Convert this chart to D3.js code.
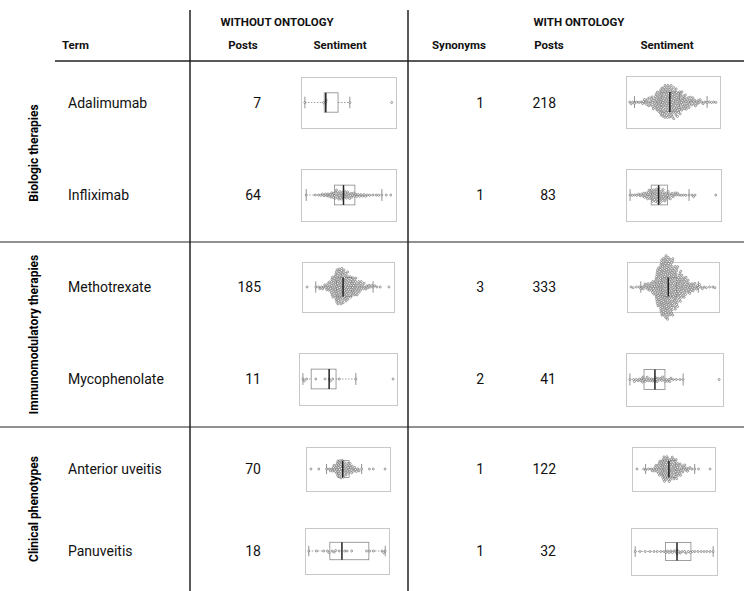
<!DOCTYPE html>
<html>
<head>
<meta charset="utf-8">
<script src="https://d3js.org/d3.v7.min.js"></script>
<style>
  body { margin: 0; background: #fff; }
  text { font-family: Roboto, "Noto Sans", sans-serif; }
</style>
</head>
<body>
<div id="my_table"></div>
<script>
// ---- data ----
var terms = ["Adalimumab", "Infliximab", "Methotrexate", "Mycophenolate", "Anterior uveitis", "Panuveitis"];
var groups = ["Biologic therapies", "Immunomodulatory therapies", "Clinical phenotypes"];
var groupOfTerm = [0, 0, 1, 1, 2, 2];
var postsWithout = [7, 64, 185, 11, 70, 18];
var synonyms = [1, 1, 3, 2, 1, 1];
var postsWith = [218, 83, 333, 41, 122, 32];

// sentiment scores (-1..1); small sets as raw values,
// big sets as counts per 0.1-wide bin from -1 to 1
var sentAdalimumabWithout = [-0.98, -0.56, -0.53, -0.51, -0.50, 0.03, 0.97];
var sentAdalimumabWithBins = [3, 2, 2, 5, 7, 10, 18, 26, 28, 28, 24, 20, 14, 10, 7, 5, 3, 2, 2, 2];
var sentInfliximabWithoutBins = [1, 0, 1, 2, 3, 4, 6, 8, 8, 7, 6, 4, 3, 3, 2, 1, 2, 1, 1, 1];
var sentInfliximabWithBins = [2, 2, 3, 5, 9, 12, 13, 11, 8, 5, 4, 2, 2, 1, 3, 0, 0, 0, 0, 1];
var sentMethotrexateWithoutBins = [1, 0, 1, 3, 4, 8, 18, 31, 31, 26, 18, 16, 11, 6, 4, 3, 2, 1, 0, 1];
var sentMethotrexateWithBins = [2, 1, 3, 5, 7, 12, 34, 52, 56, 48, 36, 26, 18, 12, 8, 5, 3, 2, 1, 2];
var sentMycophenolateWithout = [-0.98, -0.95, -0.9, -0.7, -0.5, -0.41, -0.38, -0.33, -0.19, 0.17, 0.98];
var sentMycophenolateWith = [-0.98, -0.9, -0.88, -0.84, -0.8, -0.77, -0.74, -0.72, -0.7, -0.69, -0.67,
  -0.64, -0.62, -0.6, -0.58, -0.55, -0.53, -0.5, -0.48, -0.45, -0.43, -0.42, -0.4, -0.38, -0.36,
  -0.33, -0.3, -0.28, -0.26, -0.23, -0.21, -0.18, -0.15, -0.12, -0.1, -0.08, -0.03, 0.04, 0.12, 0.19, 0.98];
var sentUveitisWithoutBins = [1, 0, 1, 0, 1, 3, 6, 14, 14, 10, 8, 5, 3, 1, 0, 1, 1, 0, 0, 1];
var sentUveitisWithBins = [1, 0, 2, 1, 3, 6, 12, 20, 20, 17, 15, 10, 6, 4, 2, 1, 1, 0, 0, 1];
var sentPanuveitisWithout = [-0.98, -0.78, -0.6, -0.5, -0.46, -0.38, -0.33, -0.29, -0.2, -0.06, 0.0, 0.12,
  0.5, 0.58, 0.68, 0.9, 0.94, 0.98];
var sentPanuveitisWith = [-0.97, -0.85, -0.72, -0.6, -0.5, -0.42, -0.33, -0.25, -0.2, -0.16, -0.12, -0.08,
  -0.04, 0.0, 0.05, 0.07, 0.08, 0.12, 0.16, 0.2, 0.26, 0.3, 0.36, 0.41, 0.46, 0.52, 0.6, 0.68, 0.75, 0.82, 0.9, 0.98];

function fromBins(counts) {
  var out = [];
  counts.forEach(function(n, k) {
    for (var i = 0; i < n; i++) out.push(-1 + 0.1 * k + (i + 0.5) / n * 0.1);
  });
  return out;
}

var sentWithout = [sentAdalimumabWithout, fromBins(sentInfliximabWithoutBins), fromBins(sentMethotrexateWithoutBins),
  sentMycophenolateWithout, fromBins(sentUveitisWithoutBins), sentPanuveitisWithout];
var sentWith = [fromBins(sentAdalimumabWithBins), fromBins(sentInfliximabWithBins), fromBins(sentMethotrexateWithBins),
  sentMycophenolateWith, fromBins(sentUveitisWithBins), sentPanuveitisWith];

// ---- layout ----
var width = 744, height = 591;
var rowY = [103, 195, 287, 379, 469, 551];
// thumbnail frames [x0, x1, y0, y1]
var frameWithout = [[301, 396, 77, 128], [301, 396, 169, 221], [302, 394, 262, 312],
  [299, 397, 353, 405], [306, 390, 447, 491], [305, 389, 528, 574]];
var frameWith = [[626, 720, 76, 128], [626, 721, 169, 221], [627, 719, 262, 312],
  [626, 723, 353, 406], [632, 715, 447, 491], [631, 717, 528, 575]];
var groupSpan = [[64, 242], [242, 427], [427, 591]];

var svg = d3.select("#my_table")
  .append("svg")
  .attr("width", width)
  .attr("height", height);

// header
var head1 = svg.append("g").style("font-weight", "bold").style("font-size", "11.5px").attr("fill", "#111");
head1.append("text").attr("x", 277).attr("y", 26).attr("text-anchor", "middle").text("WITHOUT ONTOLOGY");
head1.append("text").attr("x", 579).attr("y", 26).attr("text-anchor", "middle").text("WITH ONTOLOGY");
var subHeads = [["Term", 62, "start"], ["Posts", 243, "middle"], ["Sentiment", 340, "middle"],
  ["Synonyms", 459, "middle"], ["Posts", 549, "middle"], ["Sentiment", 667, "middle"]];
head1.selectAll(".sub").data(subHeads).enter().append("text")
  .attr("class", "sub")
  .attr("x", d => d[1]).attr("y", 49)
  .attr("text-anchor", d => d[2])
  .text(d => d[0]);

// rules
svg.append("line").attr("x1", 55).attr("x2", width).attr("y1", 61).attr("y2", 61)
  .attr("stroke", "#222").attr("stroke-width", 1.5);
[190, 408].forEach(function(x) {
  svg.append("line").attr("x1", x).attr("x2", x).attr("y1", 10).attr("y2", 591)
    .attr("stroke", "#222").attr("stroke-width", 1.5);
});
[242, 427].forEach(function(y) {
  svg.append("line").attr("x1", 0).attr("x2", width).attr("y1", y).attr("y2", y)
    .attr("stroke", "#222").attr("stroke-width", 1);
});

// group labels
svg.selectAll(".grp").data(groups).enter().append("text")
  .attr("class", "grp")
  .attr("transform", (d, i) => "translate(38," + ((groupSpan[i][0] + groupSpan[i][1]) / 2) + ") rotate(-90)")
  .attr("text-anchor", "middle")
  .style("font-weight", "bold").style("font-size", "12px")
  .text(d => d);

// row text
var rows = svg.selectAll(".row").data(terms).enter().append("g").attr("class", "row")
  .style("font-size", "14px").attr("fill", "#111");
rows.append("text").attr("x", 68).attr("y", (d, i) => rowY[i] + 5).text(d => d);
rows.append("text").attr("x", 261).attr("y", (d, i) => rowY[i] + 5).attr("text-anchor", "end")
  .text((d, i) => postsWithout[i]);
rows.append("text").attr("x", 484).attr("y", (d, i) => rowY[i] + 5).attr("text-anchor", "end")
  .text((d, i) => synonyms[i]);
rows.append("text").attr("x", 556).attr("y", (d, i) => rowY[i] + 5).attr("text-anchor", "end")
  .text((d, i) => postsWith[i]);

// beeswarm placement (sorted, nearest free slot to the centre line)
function swarm(xs, diam) {
  var placed = [];
  var order = xs.map((x, i) => i).sort((a, b) => xs[a] - xs[b]);
  var ys = new Array(xs.length);
  order.forEach(function(i) {
    var x = xs[i];
    var near = placed.filter(p => Math.abs(p.x - x) < diam);
    var cands = [0];
    near.forEach(function(p) {
      var dy = Math.sqrt(diam * diam - (p.x - x) * (p.x - x));
      cands.push(p.y + dy, p.y - dy);
    });
    cands.sort((a, b) => Math.abs(a) - Math.abs(b));
    var y = 0;
    for (var c = 0; c < cands.length; c++) {
      var ok = near.every(p => (p.x - x) * (p.x - x) + (p.y - cands[c]) * (p.y - cands[c]) >= diam * diam - 0.01);
      if (ok) { y = cands[c]; break; }
    }
    ys[i] = y;
    placed.push({x: x, y: y});
  });
  return ys;
}

function drawSentiment(vals, fr) {
  var g = svg.append("g");
  var x0 = fr[0], x1 = fr[1], y0 = fr[2], y1 = fr[3];
  var cy = (y0 + y1) / 2;
  var bh = (y1 - y0) * 0.38;
  g.append("rect").attr("x", x0 + 0.5).attr("y", y0 + 0.5)
    .attr("width", x1 - x0).attr("height", y1 - y0)
    .attr("fill", "#fff").attr("stroke", "#c8c8c8").attr("stroke-width", 1);

  var x = d3.scaleLinear().domain([-1, 1]).range([x0 + 3, x1 - 3]);
  var s = vals.slice().sort(d3.ascending);
  var q1 = d3.quantile(s, 0.25), med = d3.quantile(s, 0.5), q3 = d3.quantile(s, 0.75);
  var iqr = q3 - q1;
  var lo = d3.min(s.filter(v => v >= q1 - 1.5 * iqr));
  var hi = d3.max(s.filter(v => v <= q3 + 1.5 * iqr));

  // whiskers
  g.append("line").attr("x1", x(lo)).attr("x2", x(q1)).attr("y1", cy).attr("y2", cy)
    .attr("stroke", "#888").attr("stroke-width", 0.8).attr("stroke-dasharray", "1.5,1.5");
  g.append("line").attr("x1", x(q3)).attr("x2", x(hi)).attr("y1", cy).attr("y2", cy)
    .attr("stroke", "#888").attr("stroke-width", 0.8).attr("stroke-dasharray", "1.5,1.5");
  [lo, hi].forEach(function(v) {
    g.append("line").attr("x1", x(v)).attr("x2", x(v)).attr("y1", cy - bh * 0.3).attr("y2", cy + bh * 0.3)
      .attr("stroke", "#777").attr("stroke-width", 0.8);
  });
  g.append("rect").attr("x", x(q1)).attr("y", cy - bh / 2)
    .attr("width", x(q3) - x(q1)).attr("height", bh)
    .attr("fill", "none").attr("stroke", "#888").attr("stroke-width", 0.8);

  // points
  var xs = vals.map(v => x(v));
  var ys = swarm(xs, 2.25);
  g.selectAll("circle").data(vals).enter().append("circle")
    .attr("cx", (d, i) => xs[i]).attr("cy", (d, i) => cy + ys[i])
    .attr("r", 1.0)
    .attr("fill", "#fff").attr("stroke", "#555").attr("stroke-width", 0.55);

  g.append("line").attr("x1", x(med)).attr("x2", x(med)).attr("y1", cy - bh / 2).attr("y2", cy + bh / 2)
    .attr("stroke", "#222").attr("stroke-width", 1.5);
}

terms.forEach(function(t, i) {
  drawSentiment(sentWithout[i], frameWithout[i]);
  drawSentiment(sentWith[i], frameWith[i]);
});
</script>
</body>
</html>
